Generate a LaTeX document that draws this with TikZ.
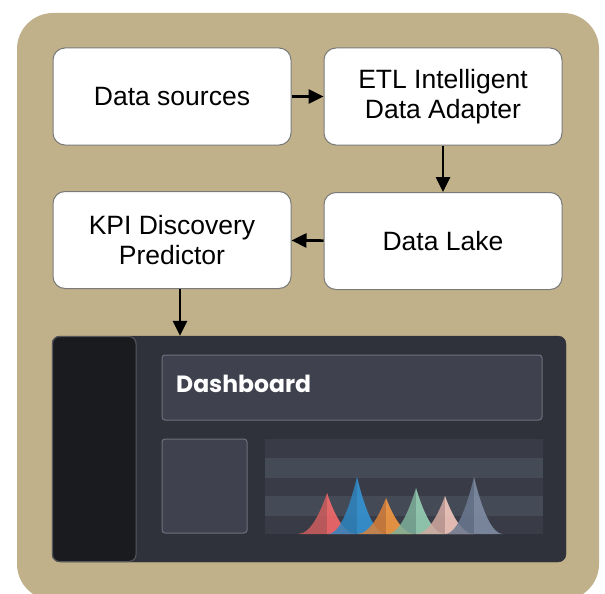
\documentclass[tikz,border=0pt]{standalone}
\usepackage{fontspec}
\setmainfont{Liberation Sans}
\newfontfamily\dashfont{Poppins}
\usetikzlibrary{arrows.meta,calc}
\definecolor{tan}{HTML}{C1B18A}
\definecolor{boxline}{HTML}{7A7A7A}
\definecolor{dashbg}{HTML}{2F323B}
\definecolor{sidebar}{HTML}{1A1B1E}
\definecolor{sideline}{HTML}{55575C}
\definecolor{panel}{HTML}{3F424E}
\definecolor{panelline}{HTML}{6E717A}
\definecolor{banddark}{HTML}{393C47}
\definecolor{bandlight}{HTML}{454A57}
\definecolor{redL}{HTML}{D05E5E}\definecolor{redR}{HTML}{FF6B6B}
\definecolor{bluL}{HTML}{2E86C1}\definecolor{bluR}{HTML}{3498DB}
\definecolor{oraL}{HTML}{D9813A}\definecolor{oraR}{HTML}{FF9F43}
\definecolor{greL}{HTML}{7FB09A}\definecolor{greR}{HTML}{9BD8BA}
\definecolor{pinL}{HTML}{D2A9A0}\definecolor{pinR}{HTML}{FFD0C4}
\definecolor{gryL}{HTML}{6B7990}\definecolor{gryR}{HTML}{8391A9}
\tikzset{
  flowbox/.style={draw=boxline, line width=1pt, fill=white, rounded corners=12pt,
    minimum width=238pt, minimum height=97pt, align=center, font=\fontsize{26.5}{29.5}\selectfont, text=black},
  arr/.style={line width=2.6pt, -{Triangle[length=15pt,width=14pt]}},
  panelbox/.style={draw=panelline, line width=1pt, fill=panel, rounded corners=3pt},
}
\newcommand\chartpeak[4]{%
  \fill[#3, opacity=.85] (#1-29,534) .. controls (#1-15,534) and (#1-5,{#2+0.35*(534-#2)}) .. (#1,#2) -- (#1,534) -- cycle;
  \fill[#4, opacity=.85] (#1,#2) .. controls (#1+5,{#2+0.35*(534-#2)}) and (#1+15,534) .. (#1+29,534) -- (#1,534) -- cycle;
}
\begin{document}
\begin{tikzpicture}[x=1pt,y=-1pt]
\useasboundingbox (0,0) rectangle (605,594);
\fill[white] (0,0) rectangle (605,594);
\fill[tan, rounded corners=36pt] (17,13) rectangle (599,600);
\node[flowbox] (ds) at (172,96.5) {Data sources};
\node[flowbox] (etl) at (443,96.5) {ETL Intelligent\\Data Adapter};
\node[flowbox] (lake) at (443,241) {Data Lake};
\node[flowbox] (kpi) at (172,240) {KPI Discovery\\Predictor};
\node[draw=dashbg, fill=dashbg, rounded corners=8pt, minimum width=514pt, minimum height=226pt, inner sep=0pt] (dash) at (309,449) {};
\draw[arr] (ds) -- (etl);
\draw[arr] (etl) -- (lake);
\draw[arr] (lake) -- (kpi);
\draw[arr] ([xshift=8pt]kpi.south) -- ([xshift=8pt]kpi.south |- dash.north);
% sidebar
\draw[sideline, fill=sidebar, line width=1pt, rounded corners=7pt] (52.5,336.5) rectangle (136,561.5);
% header
\draw[panelbox] (162,355) rectangle (542,420);
\node[anchor=west, text=white, font=\dashfont\bfseries\fontsize{23.5}{26}\selectfont, inner sep=0pt] (dtitle) at (176,384) {Dashboard};
% small panel
\draw[panelbox] (162,439) rectangle (247,533);
% chart bands
\fill[banddark] (265,439) rectangle (543,458);
\fill[bandlight] (265,458) rectangle (543,478);
\fill[banddark] (265,478) rectangle (543,496);
\fill[bandlight] (265,496) rectangle (543,516);
\fill[banddark] (265,516) rectangle (543,534);
\chartpeak{327}{493}{redL}{redR}
\chartpeak{357}{477}{bluL}{bluR}
\chartpeak{386}{498}{oraL}{oraR}
\chartpeak{416}{488}{greL}{greR}
\chartpeak{445}{496}{pinL}{pinR}
\chartpeak{474}{477}{gryL}{gryR}
\end{tikzpicture}
\end{document}
